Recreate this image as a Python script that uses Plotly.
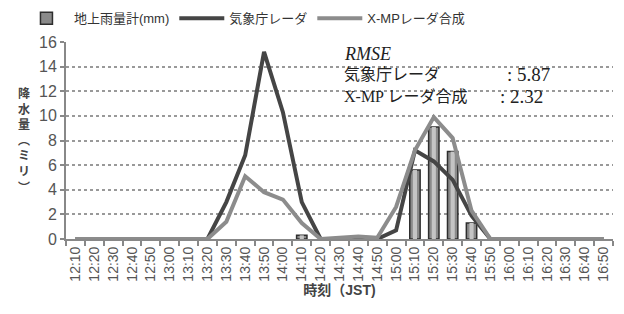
import plotly.graph_objects as go

times = ["12:10", "12:20", "12:30", "12:40", "12:50", "13:00", "13:10", "13:20",
         "13:30", "13:40", "13:50", "14:00", "14:10", "14:20", "14:30", "14:40",
         "14:50", "15:00", "15:10", "15:20", "15:30", "15:40", "15:50", "16:00",
         "16:10", "16:20", "16:30", "16:40", "16:50"]

gauge = [None, None, None, None, None, None, None, None,
         None, None, None, None, 0.3, None, None, None,
         None, None, 5.6, 9.1, 7.1, 1.3, None, None,
         None, None, None, None, None]

jma = [0, 0, 0, 0, 0, 0, 0, 0,
       3.0, 6.8, 15.2, 10.3, 3.0, 0, 0, 0,
       0, 0.7, 7.2, 6.3, 4.8, 1.9, 0, 0,
       0, 0, 0, 0, 0]

xmp = [0, 0, 0, 0, 0, 0, 0, 0,
       1.4, 5.1, 3.8, 3.2, 1.3, 0, 0.1, 0.2,
       0.1, 2.6, 7.2, 9.9, 8.2, 2.3, 0, 0,
       0, 0, 0, 0, 0]

names = ["地上雨量計(mm)", "気象庁レーダ", "X-MPレーダ合成"]
rmse_labels = ["気象庁レーダ", "X-MP レーダ合成"]
rmse_values = ["5.87", "2.32"]

FONT = "Liberation Sans, Noto Sans CJK JP, sans-serif"
SERIF = "Liberation Serif, Noto Sans CJK JP, serif"

fig = go.Figure()
fig.add_trace(go.Bar(
    x=times, y=gauge, name=names[0], width=0.55,
    marker=dict(color="#8a8a8a", line=dict(color="#2e2e2e", width=1.5)),
))
fig.add_trace(go.Bar(
    x=times, y=gauge, name=names[0], width=0.22, showlegend=False, hoverinfo="skip",
    marker=dict(color="#c4c4c4", line=dict(width=0)),
))
fig.add_trace(go.Scatter(
    x=times, y=jma, name=names[1], mode="lines",
    line=dict(color="#454545", width=4),
))
fig.add_trace(go.Scatter(
    x=times, y=xmp, name=names[2], mode="lines",
    line=dict(color="#8c8c8c", width=4),
))

fig.update_layout(
    width=624, height=314,
    margin=dict(l=66, r=11, t=42, b=75, autoexpand=False),
    paper_bgcolor="white", plot_bgcolor="white",
    font=dict(family=FONT, size=13, color="#333"),
    barmode="overlay",
    legend=dict(orientation="h", x=-0.086, xanchor="left", y=1.12, yanchor="middle",
                font=dict(size=13, color="#333"), itemwidth=45,
                tracegroupgap=0, bgcolor="rgba(0,0,0,0)"),
    showlegend=True,
)

fig.update_xaxes(
    type="category", tickangle=-90, tickson="boundaries",
    ticks="outside", ticklen=5, tickcolor="#888", tickwidth=1.5,
    showline=True, linecolor="#888", linewidth=2,
    showgrid=False,
    tickfont=dict(size=14, color="#555"),
    title=dict(text="<b>時刻（JST)</b>", font=dict(size=14, color="#444"), standoff=2),
)
fig.update_yaxes(
    range=[0, 16], dtick=2,
    ticks="outside", ticklen=4, tickcolor="#888", tickwidth=1.5,
    showline=True, linecolor="#888", linewidth=2,
    showgrid=True, gridcolor="#999", griddash="dot", gridwidth=1.5,
    zeroline=False,
    tickfont=dict(size=16, color="#555"),
)

# vertical y-axis title
ytitle = "<br>".join(["降", "水", "量", "︵", "ミ", "リ", "︶"])
fig.add_annotation(text="<b>" + ytitle + "</b>", xref="paper", yref="paper",
                   x=-0.077, y=0.5, xanchor="center", yanchor="middle",
                   showarrow=False, font=dict(size=12, color="#444", family=FONT))

# RMSE box
fig.add_annotation(text="<i>RMSE</i>", xref="paper", yref="paper",
                   x=0.505, y=1.0, xanchor="left", yanchor="top", showarrow=False,
                   font=dict(size=18, color="#222", family=SERIF))
for i, (lab, val) in enumerate(zip(rmse_labels, rmse_values)):
    yy = 0.89 - i * 0.112
    fig.add_annotation(text=lab, xref="paper", yref="paper",
                       x=0.505, y=yy, xanchor="left", yanchor="top", showarrow=False,
                       font=dict(size=16, color="#222", family=SERIF))
    fig.add_annotation(text=":&nbsp;" + val, xref="paper", yref="paper",
                       x=0.803 if i == 0 else 0.79, y=yy + 0.01, xanchor="left", yanchor="top",
                       showarrow=False, font=dict(size=19, color="#222", family=SERIF))

fig.write_html("out.html", config={"displayModeBar": False},
               post_script="document.body.style.margin='0';")
